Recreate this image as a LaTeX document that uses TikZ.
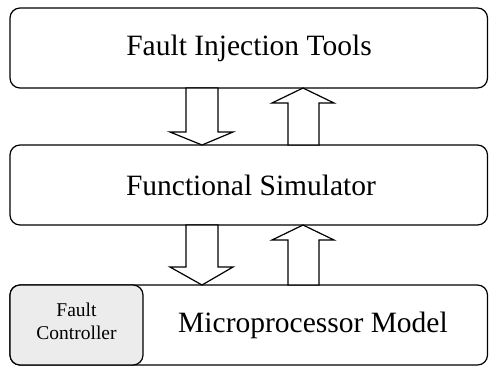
\documentclass[tikz,border=0pt]{standalone}
\usepackage{fontspec}
\setmainfont{Liberation Serif}
\begin{document}
\begin{tikzpicture}[x=1pt,y=-1pt,line join=miter,
  layer/.style={draw=black,line width=1.2pt,rounded corners=10pt,fill=white},
  ctrl/.style={draw=black,line width=1.2pt,rounded corners=10pt,fill=gray!15},
  bigtext/.style={font=\rmfamily\fontsize{29.5}{34}\selectfont},
  smalltext/.style={font=\rmfamily\fontsize{19.5}{23}\selectfont,align=center},
  fatarrow/.style={draw=black,line width=1.2pt,fill=white}]
\useasboundingbox (0,0) rectangle (489,368);

% three stacked layers
\draw[layer] (10,8) rectangle (487.5,88);
\node[bigtext] (fit) at (249,48) {Fault Injection Tools};
\draw[layer] (10,145) rectangle (487.5,225);
\node[bigtext] (fsim) at (251,185) {Functional Simulator};
\draw[layer] (10,285) rectangle (487.5,365);
\node[bigtext] (mpm) at (313,325) {Microprocessor Model};

% fault controller inside the model
\draw[ctrl] (10,285) rectangle (143,365);
\node[smalltext] (fc) at (76.5,321) {Fault\\Controller};

% block arrows between the top two layers
\draw[fatarrow] (186,88) -- (218,88) -- (218,132) -- (233,132) -- (202,145)
  -- (170,132) -- (186,132) -- cycle;
\draw[fatarrow] (288,145) -- (288,103) -- (272,103) -- (303,88) -- (334,103)
  -- (319,103) -- (319,145) -- cycle;

% block arrows between the simulator and the model
\draw[fatarrow] (186,225) -- (218,225) -- (218,267) -- (233,267) -- (202,285)
  -- (170,267) -- (186,267) -- cycle;
\draw[fatarrow] (288,285) -- (288,240) -- (272,240) -- (303,225) -- (334,240)
  -- (319,240) -- (319,285) -- cycle;
\end{tikzpicture}
\end{document}
